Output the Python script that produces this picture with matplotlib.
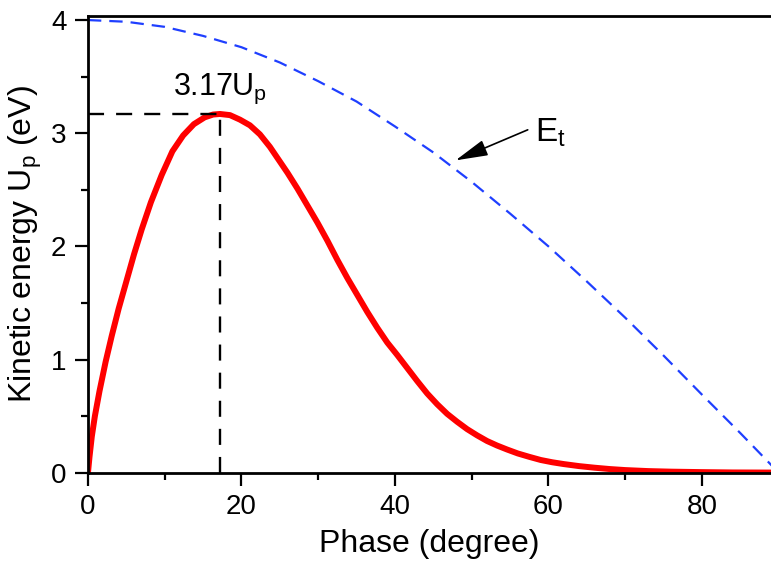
import matplotlib
matplotlib.use("Agg")
import matplotlib.pyplot as plt

plt.rcParams['font.family'] = ['Liberation Sans', 'DejaVu Sans']
plt.rcParams['mathtext.fontset'] = 'custom'
plt.rcParams['mathtext.rm'] = 'Liberation Sans'
plt.rcParams['mathtext.it'] = 'Liberation Sans:italic'

# -----------------------------
# Return kinetic energy vs. ionization phase
# -----------------------------
phase_ke = [0, 0.2, 0.5, 0.9, 1.5, 2.3, 3.1, 4.0, 5.0, 6.0, 7.0, 8.2, 9.6,
            11.0, 12.4, 13.8, 15.2, 16.3, 17.2, 18.5, 19.8, 21.1, 22.4, 23.7,
            24.8, 26.0, 27.3, 28.6, 29.9, 31.2, 32.5, 33.8, 35.1, 36.4, 37.7,
            39.0, 40.3, 41.6, 42.9, 44.2, 45.5, 46.8, 48.1, 49.4, 50.7, 52.0,
            53.3, 54.6, 56.0, 57.5, 59.0, 60.5, 62.0, 64.0, 66.0, 68.0, 70.0,
            73.0, 76.0, 80.0, 84.0, 89.0]
kinetic = [0, 0.14, 0.32, 0.50, 0.72, 0.98, 1.21, 1.45, 1.69, 1.93, 2.15, 2.39, 2.63,
           2.84, 2.98, 3.08, 3.14, 3.165, 3.17, 3.16, 3.12, 3.07, 2.99, 2.88,
           2.77, 2.65, 2.51, 2.36, 2.21, 2.05, 1.88, 1.72, 1.57, 1.42, 1.28,
           1.15, 1.04, 0.925, 0.81, 0.70, 0.605, 0.52, 0.45, 0.385, 0.33, 0.28,
           0.24, 0.205, 0.17, 0.14, 0.112, 0.092, 0.076, 0.058, 0.044, 0.032, 0.023,
           0.014, 0.009, 0.005, 0.002, 0.001]

# -----------------------------
# E_t curve
# -----------------------------
phase_et = [0, 5, 10, 15, 20, 25, 30, 35, 40, 45, 50, 55, 60, 65, 70, 75, 80, 85, 90]
energy_t = [4.0, 3.985, 3.94, 3.86, 3.76, 3.625, 3.46, 3.28, 3.06, 2.83, 2.57,
            2.29, 2.0, 1.69, 1.37, 1.035, 0.69, 0.35, 0.0]

peak_phase = 17.2
peak_value = 3.17

fig = plt.figure(figsize=(7.71, 5.65), dpi=100)
ax = fig.add_axes([0.1141, 0.1634, 0.8859, 0.8079])

ax.plot(phase_et, energy_t, color="#1f3fff", lw=1.6, dashes=(6.0, 3.6))
ax.plot(phase_ke, kinetic, color="red", lw=4.3, solid_capstyle="butt",
        solid_joinstyle="round")

# Peak guides
ax.plot([0, peak_phase], [peak_value, peak_value], color="black", lw=1.7, dashes=(6.8, 5.1))
ax.plot([peak_phase, peak_phase], [0, peak_value], color="black", lw=1.7, dashes=(6.8, 5.1))

ax.text(11.07, 3.343, r"3.17U$_\mathrm{p}$", fontsize=22, ha="left", va="baseline")

ax.annotate("", xy=(47.9, 2.76), xytext=(57.3, 3.03),
            arrowprops=dict(arrowstyle="-|>,head_length=1.0,head_width=0.25",
                            mutation_scale=20, color="black", lw=1.2,
                            shrinkA=0, shrinkB=0))
ax.text(58.2, 2.925, r"E$_\mathrm{t}$", fontsize=24, ha="left", va="baseline")

ax.set_xlim(0, 89)
ax.set_ylim(0, 4.034)
ax.set_xticks([0, 20, 40, 60, 80])
ax.set_xticks([10, 30, 50, 70], minor=True)
ax.set_yticks([0, 1, 2, 3, 4])
ax.set_yticks([0.5, 1.5, 2.5, 3.5], minor=True)

ax.tick_params(which="both", direction="out", width=1.6, labelsize=20,
               top=False, right=False)
ax.tick_params(which="major", length=9.5, pad=6)
ax.tick_params(which="minor", length=5)

for side in ["left", "bottom", "top"]:
    ax.spines[side].set_linewidth(2.0)
ax.spines["right"].set_visible(False)

ax.set_xlabel("Phase (degree)", fontsize=23, labelpad=6)
ax.set_ylabel(r"Kinetic energy U$_\mathrm{p}$ (eV)", fontsize=23, labelpad=5)

fig.savefig("out.png", dpi=100)
